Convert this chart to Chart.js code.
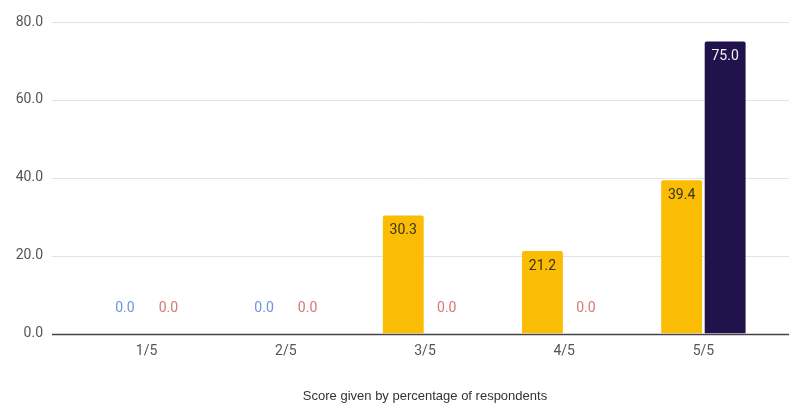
<!DOCTYPE html>
<html>
<head>
<meta charset="utf-8">
<script src="https://cdn.jsdelivr.net/npm/chart.js@4"></script>
<style>
  html, body { margin: 0; padding: 0; background: #fff; overflow: hidden; }
  #wrap { width: 789px; height: 406px; }
</style>
</head>
<body>
<div id="wrap"><canvas id="scoreChart"></canvas></div>
<script>
// dados
const categories = ['1/5', '2/5', '3/5', '4/5', '5/5'];
const seriesA = [0, 0, 30.3, 21.2, 39.4];
const seriesB = [0, 0, 0, 0, 75.0];
const yTicks = [0, 20, 40, 60, 80];
const xTitle = 'Score given by percentage of respondents';

const yellow = '#fbbc04';
const navy = '#20134b';
// cor do rótulo quando o valor é zero
const zeroLabelColors = ['#6d93dc', '#dc7474'];
const barLabelColors = ['#3b3320', '#f4f1fb'];

// linhas de grade que passam da área do gráfico até a borda direita
const gridPlugin = {
  id: 'wideGrid',
  beforeDatasetsDraw(chart) {
    const c = chart.ctx;
    const y = chart.scales.y;
    c.save();
    yTicks.forEach(t => {
      const py = Math.round(y.getPixelForValue(t)) + 0.5;
      c.beginPath();
      c.strokeStyle = t === 0 ? '#444444' : '#e3e3e3';
      c.lineWidth = t === 0 ? 1.5 : 1;
      c.moveTo(52, py);
      c.lineTo(chart.width, py);
      c.stroke();
    });
    c.restore();
  }
};

// rótulos dos valores
const labelPlugin = {
  id: 'valueLabels',
  afterDatasetsDraw(chart) {
    const c = chart.ctx;
    c.save();
    c.font = '14px Roboto';
    c.textAlign = 'center';
    c.textBaseline = 'middle';
    chart.data.datasets.forEach((ds, di) => {
      const meta = chart.getDatasetMeta(di);
      meta.data.forEach((bar, i) => {
        const v = ds.data[i];
        const txt = v.toFixed(1);
        if (v > 0) {
          c.fillStyle = barLabelColors[di];
          c.fillText(txt, bar.x, bar.y + 15);
        } else {
          c.fillStyle = zeroLabelColors[di];
          c.fillText(txt, bar.x, bar.base - 25);
        }
      });
    });
    c.restore();
  }
};

new Chart(document.getElementById('scoreChart'), {
  type: 'bar',
  data: {
    labels: categories,
    datasets: [{
      label: 'A',
      data: seriesA,
      backgroundColor: yellow,
      borderRadius: { topLeft: 2, topRight: 2 },
      borderSkipped: 'bottom',
      barPercentage: 0.94,
      categoryPercentage: 0.625
    }, {
      label: 'B',
      data: seriesB,
      backgroundColor: navy,
      borderRadius: { topLeft: 2, topRight: 2 },
      borderSkipped: 'bottom',
      barPercentage: 0.94,
      categoryPercentage: 0.625
    }]
  },
  options: {
    responsive: true,
    maintainAspectRatio: false,
    animation: false,
    layout: { padding: { top: 22, right: 16, left: 0, bottom: 2 } },
    plugins: {
      legend: { display: false },
      tooltip: { enabled: false }
    },
    scales: {
      x: {
        grid: { display: false, drawTicks: false },
        border: { display: false },
        ticks: { color: '#555555', font: { family: 'Roboto', size: 14 }, padding: 9 },
        title: {
          display: true,
          text: xTitle,
          color: '#333333',
          font: { family: 'Liberation Sans', size: 13 },
          padding: { top: 20, bottom: 0 }
        }
      },
      y: {
        min: 0,
        max: 80,
        afterBuildTicks: s => { s.ticks = yTicks.map(v => ({ value: v })); },
        afterFit: s => { s.width = 77; },
        // marca invisível empurra os rótulos para a esquerda
        grid: { display: false, drawTicks: true, tickLength: 34 },
        border: { display: false },
        ticks: {
          color: '#555555',
          font: { family: 'Roboto', size: 14 },
          padding: 0,
          callback: v => v.toFixed(1)
        }
      }
    }
  },
  plugins: [gridPlugin, labelPlugin]
});
</script>
</body>
</html>
